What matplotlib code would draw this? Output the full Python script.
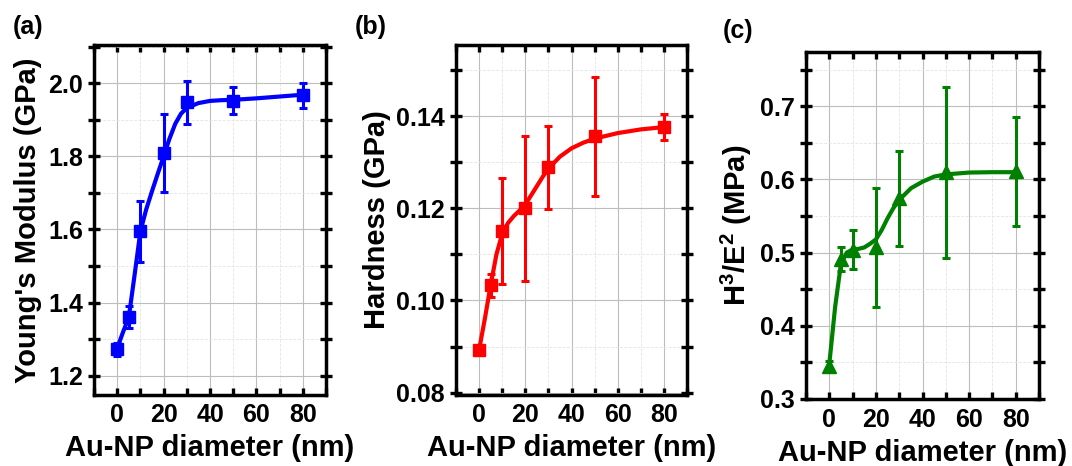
import numpy as np
import matplotlib
matplotlib.use('Agg')
import matplotlib.pyplot as plt
from matplotlib.ticker import MultipleLocator, FormatStrFormatter

plt.rcParams['font.family'] = ['Liberation Sans', 'DejaVu Sans']
plt.rcParams['font.weight'] = 'bold'
plt.rcParams['mathtext.fontset'] = 'custom'
plt.rcParams['mathtext.rm'] = 'Liberation Sans:bold'
plt.rcParams['mathtext.bf'] = 'Liberation Sans:bold'
plt.rcParams['mathtext.default'] = 'bf'

# measured points (Au-NP diameter in nm)
diam = [0, 5, 10, 20, 30, 50, 80]

modulus = [1.272, 1.360, 1.595, 1.809, 1.948, 1.953, 1.967]
modulus_err = [0.018, 0.030, 0.083, 0.106, 0.058, 0.037, 0.035]

hardness = [0.0893, 0.1033, 0.1150, 0.1200, 0.1289, 0.1356, 0.1376]
hardness_err = [0.0007, 0.0025, 0.0115, 0.0157, 0.0090, 0.0129, 0.0029]

ratio = [0.345, 0.491, 0.504, 0.507, 0.574, 0.610, 0.611]
ratio_err = [0.007, 0.016, 0.027, 0.082, 0.065, 0.117, 0.075]

# fitted curves
fit_x = [0, 2.5, 5, 7.5, 10, 12.5, 15, 17.5, 20, 22.5, 25, 27.5, 30,
         35, 40, 45, 50, 60, 70, 80]
modulus_fit = [1.275, 1.319, 1.360, 1.476, 1.595, 1.655, 1.705, 1.753, 1.800, 1.848,
               1.889, 1.917, 1.933, 1.946, 1.952, 1.954, 1.955, 1.959, 1.964, 1.969]
hardness_fit = [0.0893, 0.0961, 0.1034, 0.1100, 0.1145, 0.1168, 0.1183, 0.1195, 0.1208,
                0.1228, 0.1248, 0.1268, 0.1286, 0.1312, 0.1330, 0.1342, 0.1351,
                0.1363, 0.1371, 0.1376]
ratio_fit = [0.348, 0.426, 0.485, 0.500, 0.504, 0.505, 0.507, 0.512, 0.518, 0.531,
             0.547, 0.561, 0.572, 0.588, 0.597, 0.604, 0.607, 0.6095, 0.6100, 0.6100]

panels = [
    dict(pos=[0.0877, 0.1524, 0.2164, 0.751], y=modulus, err=modulus_err, fit=modulus_fit,
         color='#0000ff', marker='s', ms=8.5, ylim=(1.147, 2.105), major=0.2, minor=0.1,
         fmt='%.1f', ylabel="Young's Modulus (GPa)", tag='(a)', tagxy=(0.012, 0.968)),
    dict(pos=[0.4254, 0.1524, 0.2155, 0.751], y=hardness, err=hardness_err, fit=hardness_fit,
         color='#ff0000', marker='s', ms=8.5, ylim=(0.0795, 0.1554), major=0.02, minor=0.01,
         fmt='%.2f', ylabel='Hardness (GPa)', tag='(b)', tagxy=(0.331, 0.968)),
    dict(pos=[0.7519, 0.1431, 0.2174, 0.746], y=ratio, err=ratio_err, fit=ratio_fit,
         color='#008000', marker='^', ms=9.5, ylim=(0.299, 0.775), major=0.1, minor=0.05,
         fmt='%.1f', ylabel=r'H$^3$/E$^2$ (MPa)', tag='(c)', tagxy=(0.674, 0.960)),
]

fig = plt.figure(figsize=(10.72, 4.66), dpi=100)

for p in panels:
    ax = fig.add_axes(p['pos'])
    ax.plot(fit_x, p['fit'], color=p['color'], lw=3, zorder=3)
    ax.errorbar(diam, p['y'], yerr=p['err'], fmt=p['marker'], color=p['color'],
                ms=p['ms'], elinewidth=2.2, capsize=3, capthick=2.2, zorder=4)

    ax.set_xlim(-10, 90)
    ax.set_ylim(*p['ylim'])
    ax.xaxis.set_major_locator(MultipleLocator(20))
    ax.xaxis.set_minor_locator(MultipleLocator(10))
    ax.yaxis.set_major_locator(MultipleLocator(p['major']))
    ax.yaxis.set_minor_locator(MultipleLocator(p['minor']))
    ax.yaxis.set_major_formatter(FormatStrFormatter(p['fmt']))

    ax.grid(True, which='major', color='#bdbdbd', lw=0.8)
    ax.grid(True, which='minor', color='#e4e4e4', lw=0.6, linestyle='--')
    ax.set_axisbelow(True)

    for s in ax.spines.values():
        s.set_linewidth(2.5)
    ax.tick_params(which='both', top=True, right=True, direction='in',
                   length=5, width=2.4, labelsize=18, pad=6)
    ax.tick_params(axis='y', which='both', direction='inout', length=8, pad=4)
    for lab in ax.get_xticklabels() + ax.get_yticklabels():
        lab.set_fontweight('bold')

    ax.set_xlabel('Au-NP diameter (nm)', fontsize=21, fontweight='bold', labelpad=5)
    ax.set_ylabel(p['ylabel'], fontsize=21, fontweight='bold', labelpad=4)
    fig.text(p['tagxy'][0], p['tagxy'][1], p['tag'], fontsize=18, fontweight='bold',
             va='top')

fig.savefig('out.png', dpi=100)
